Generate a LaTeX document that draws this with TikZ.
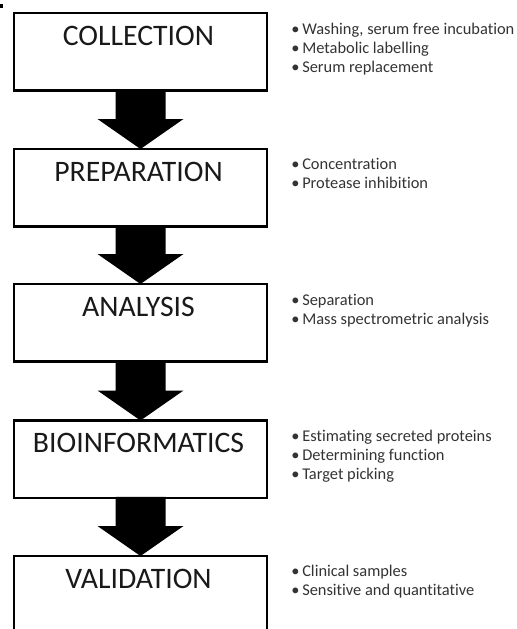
\documentclass[tikz,border=0pt]{standalone}
\usepackage{fontspec}
\setmainfont{Carlito}[RawFeature=-liga]
\usetikzlibrary{calc}
\newcommand{\bul}[1]{\makebox[8.25pt][l]{\textbullet}#1}
\begin{document}
\begin{tikzpicture}[x=0.75pt,y=-0.75pt,
  stage/.style={draw=black, line width=2pt, fill=white, minimum width=189.75pt, minimum height=58pt, inner sep=0pt, outer sep=0pt, anchor=north},
  title/.style={anchor=base, inner sep=0pt, font=\fontsize{22.3}{26}\selectfont, text=black!90},
  item/.style={anchor=base west, inner sep=0pt, font=\fontsize{12.3}{14}\selectfont, text=black!80},
  flow/.style={fill=black}]
\useasboundingbox (0,0) rectangle (517,629);
\clip (0,0) rectangle (517,629);
\fill[black] (0,4) rectangle (3,7.5);

\node[stage] (b1) at (140.5,13) {};
\node[stage] (b2) at (140.5,149) {};
\node[stage] (b3) at (140.5,284) {};
\node[stage] (b4) at (140.5,420.5) {};
\node[stage, minimum height=90pt] (b5) at (140.5,556) {};

\node[title] (t1) at ($(b1.north)+(-2,32)$) {COLLECTION};
\node[title] (t2) at ($(b2.north)+(-2,32)$) {PREPARATION};
\node[title] (t3) at ($(b3.north)+(-2,32)$) {ANALYSIS};
\node[title] (t4) at ($(b4.north)+(-2,32)$) {BIOINFORMATICS};
\node[title] (t5) at ($(b5.north)+(-2,32)$) {VALIDATION};

\foreach \a/\b in {b1/b2,b2/b3,b3/b4,b4/b5}{
  \fill[flow] ($(\a.south)+(-25,-1)$) -- ($(\a.south)+(25,-1)$) -- ($(\b.north)+(25,-30)$)
    -- ($(\b.north)+(43,-30)$) -- (\b.north) -- ($(\b.north)+(-43,-30)$)
    -- ($(\b.north)+(-25,-30)$) -- cycle;
}

\node[item] (c11) at (291,34) {\bul{Washing, serum free incubation}};
\node[item] (c12) at (291,53) {\bul{Metabolic labelling}};
\node[item] (c13) at (291,72) {\bul{Serum replacement}};
\node[item] (c21) at (291,169.5) {\bul{Concentration}};
\node[item] (c22) at (291,188.5) {\bul{Protease inhibition}};
\node[item] (c31) at (291,305) {\bul{Separation}};
\node[item] (c32) at (291,324) {\bul{Mass spectrometric analysis}};
\node[item] (c41) at (291,441) {\bul{Estimating secreted proteins}};
\node[item] (c42) at (291,460) {\bul{Determining function}};
\node[item] (c43) at (291,479) {\bul{Target picking}};
\node[item] (c51) at (291,576) {\bul{Clinical samples}};
\node[item] (c52) at (291,595) {\bul{Sensitive and quantitative}};
\end{tikzpicture}
\end{document}
